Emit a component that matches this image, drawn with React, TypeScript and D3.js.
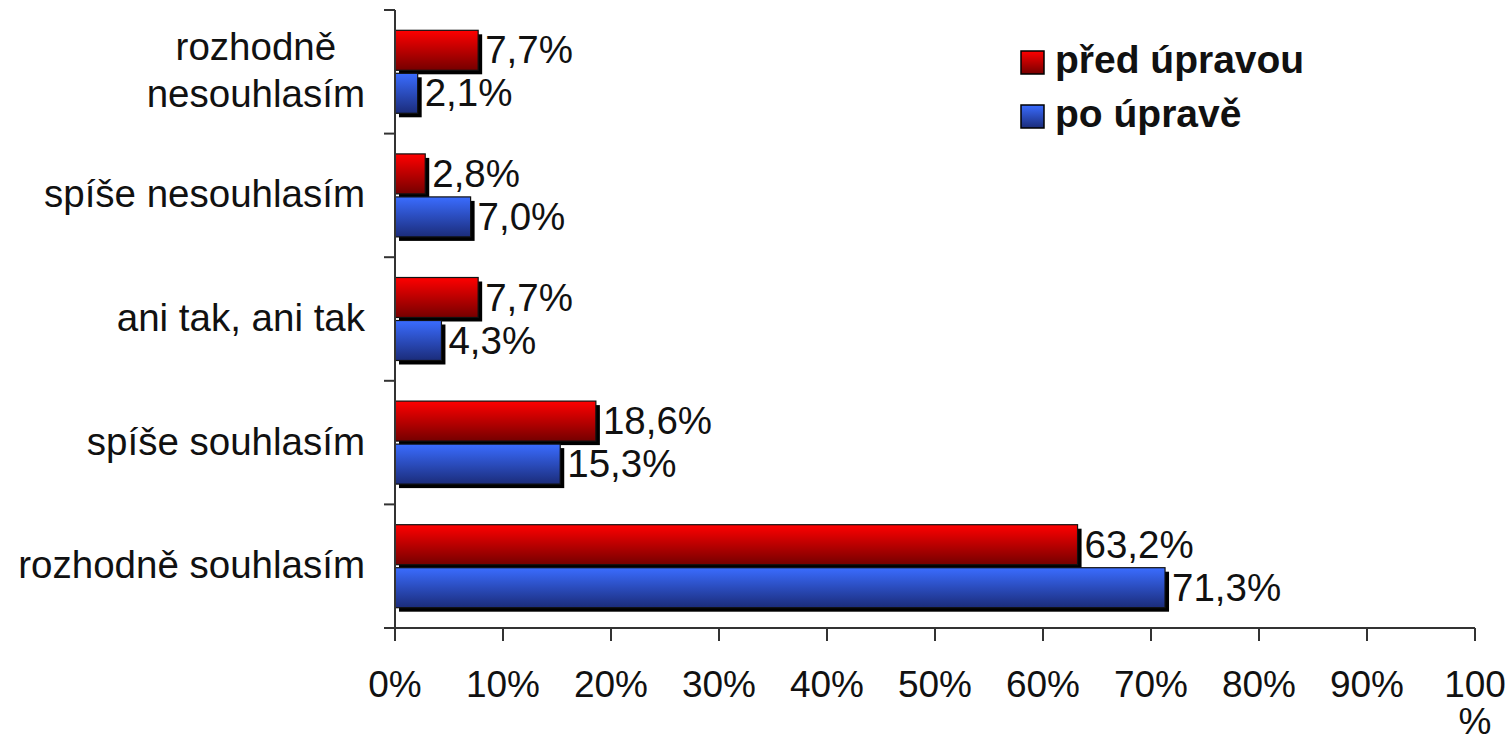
import React, { useEffect, useRef } from "react";
import * as d3 from "d3";

const categories = [
  "rozhodně nesouhlasím",
  "spíše nesouhlasím",
  "ani tak, ani tak",
  "spíše souhlasím",
  "rozhodně souhlasím",
];
const categoryLines = [
  ["rozhodně", "nesouhlasím"],
  ["spíše nesouhlasím"],
  ["ani tak, ani tak"],
  ["spíše souhlasím"],
  ["rozhodně souhlasím"],
];
const seriesNames = ["před úpravou", "po úpravě"];
const beforeValues = [7.7, 2.8, 7.7, 18.6, 63.2];
const afterValues = [2.1, 7.0, 4.3, 15.3, 71.3];
const tickValues = [0, 10, 20, 30, 40, 50, 60, 70, 80, 90, 100];
const tickLabels = [["0%"], ["10%"], ["20%"], ["30%"], ["40%"], ["50%"], ["60%"], ["70%"], ["80%"], ["90%"], ["100", "%"]];

const W = 1510;
const H = 744;
const FONT = "'Liberation Sans', Arial, sans-serif";

export default function App() {
  const ref = useRef<SVGSVGElement | null>(null);

  useEffect(() => {
    const svg = d3.select(ref.current);
    svg.selectAll("*").remove();

    const left = 395;
    const right = 1475;
    const top = 10;
    const bottom = 628;

    const x = d3.scaleLinear().domain([0, 100]).range([left, right]);
    const y = d3.scaleBand<string>().domain(categories).range([top, bottom]).padding(0);
    const barH = 40;
    const barStep = 43;
    const groupH = barH + barStep;
    const shadow = 4;
    const series = [beforeValues, afterValues];

    const defs = svg.append("defs");
    const grads = [
      { id: "gRed", c0: "#ff0000", c1: "#750000" },
      { id: "gBlue", c0: "#3a6cff", c1: "#1b2c7a" },
    ];
    grads.forEach((g) => {
      const lg = defs.append("linearGradient").attr("id", g.id).attr("x1", 0).attr("y1", 0).attr("x2", 0).attr("y2", 1);
      lg.append("stop").attr("offset", "0%").attr("stop-color", g.c0);
      lg.append("stop").attr("offset", "100%").attr("stop-color", g.c1);
    });

    const fmt = (v: number) => d3.format(".1f")(v).replace(".", ",") + "%";

    // bars
    categories.forEach((c, ci) => {
      const y0 = (y(c) as number) + (y.bandwidth() - groupH) / 2;
      series.forEach((vals, si) => {
        const v = vals[ci];
        const by = y0 + si * barStep;
        const bw = x(v) - x(0);
        svg.append("rect").attr("x", x(0) + shadow).attr("y", by + shadow).attr("width", bw).attr("height", barH).attr("fill", "#000");
        svg.append("rect").attr("x", x(0)).attr("y", by).attr("width", bw).attr("height", barH)
          .attr("fill", `url(#${grads[si].id})`).attr("stroke", "#111").attr("stroke-width", 1.2);
      });
    });

    // value labels
    categories.forEach((c, ci) => {
      const y0 = (y(c) as number) + (y.bandwidth() - groupH) / 2;
      series.forEach((vals, si) => {
        const v = vals[ci];
        const by = y0 + si * barStep;
        svg.append("text").attr("x", x(v) + shadow + 3).attr("y", by + barH / 2 + 13)
          .attr("font-family", FONT).attr("font-size", 38.5).attr("fill", "#111").text(fmt(v));
      });
    });

    // axes
    const ax = "#333";
    svg.append("line").attr("x1", left).attr("x2", left).attr("y1", top).attr("y2", bottom).attr("stroke", ax).attr("stroke-width", 2);
    svg.append("line").attr("x1", left).attr("x2", right).attr("y1", bottom).attr("y2", bottom).attr("stroke", ax).attr("stroke-width", 2);
    const yTicks = categories.map((c) => y(c) as number).concat([bottom]);
    yTicks.forEach((ty) => {
      svg.append("line").attr("x1", left - 11).attr("x2", left).attr("y1", ty).attr("y2", ty).attr("stroke", ax).attr("stroke-width", 2);
    });
    tickValues.forEach((t, i) => {
      svg.append("line").attr("x1", x(t)).attr("x2", x(t)).attr("y1", bottom).attr("y2", bottom + 13).attr("stroke", ax).attr("stroke-width", 2);
      tickLabels[i].forEach((ln, li) => {
        svg.append("text").attr("x", x(t)).attr("y", 697 + li * 37).attr("text-anchor", "middle")
          .attr("font-family", FONT).attr("font-size", 37).attr("fill", "#111").text(ln);
      });
    });

    // category labels
    const labelRight = 365;
    const lineGap = 47;
    categories.forEach((c, ci) => {
      const lines = categoryLines[ci];
      const cy = (y(c) as number) + y.bandwidth() / 2;
      const g = svg.append("g");
      const nodes = lines.map((ln, li) =>
        g.append("text").attr("y", cy + (li - (lines.length - 1) / 2) * lineGap + 12)
          .attr("text-anchor", "middle").attr("font-family", FONT).attr("font-size", 38.5).attr("fill", "#111").text(ln)
      );
      const maxW = d3.max(nodes, (n) => (n.node() as SVGTextElement).getComputedTextLength()) || 0;
      nodes.forEach((n) => n.attr("x", labelRight - maxW / 2));
    });

    // legend
    const lx = 1021;
    const ly = [51, 105];
    seriesNames.forEach((name, si) => {
      svg.append("rect").attr("x", lx).attr("y", ly[si]).attr("width", 23).attr("height", 23)
        .attr("fill", `url(#${grads[si].id})`).attr("stroke", "#000").attr("stroke-width", 1.5);
      svg.append("text").attr("x", lx + 34).attr("y", ly[si] + 22).attr("font-family", FONT).attr("font-weight", "bold")
        .attr("font-size", 39).attr("fill", "#111").text(name);
    });
  }, []);

  return (
    <svg ref={ref} width={W} height={H} style={{ position: "absolute", left: 0, top: 0, background: "#fff" }} />
  );
}
